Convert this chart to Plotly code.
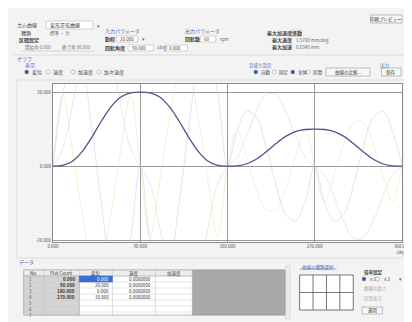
import plotly.graph_objects as go

# ---------------- data ----------------
deg = [0, 10, 20, 30, 40, 50, 60, 70, 80, 90,
       100, 110, 120, 130, 140, 150, 160, 170, 180,
       190, 200, 210, 220, 230, 240, 250, 260, 270,
       280, 290, 300, 310, 320, 330, 340, 350, 360]
displacement = [0, 0.2, 1.3, 3.9, 7.8, 12.2, 16.1, 18.7, 19.8, 20,
                19.8, 18.7, 16.1, 12.2, 7.8, 3.9, 1.3, 0.2, 0,
                0.1, 0.65, 1.95, 3.9, 6.1, 8.05, 9.35, 9.9, 10,
                9.9, 9.35, 8.05, 6.1, 3.9, 1.95, 0.65, 0.1, 0]
velocity = [0, 4.7, 16.5, 30, 38.8, 38.8, 30, 16.5, 4.7, 0,
            -4.7, -16.5, -30, -38.8, -38.8, -30, -16.5, -4.7, 0,
            2.4, 8.3, 15, 19.4, 19.4, 15, 8.3, 2.4, 0,
            -2.4, -8.3, -15, -19.4, -19.4, -15, -8.3, -2.4, 0]
acceleration = [0, 19.3, 29.6, 26, 10.3, -10.3, -26, -29.6, -19.3, 0,
                -19.3, -29.6, -26, -10.3, 10.3, 26, 29.6, 19.3, 0,
                9.6, 14.8, 13, 5.1, -5.1, -13, -14.8, -9.6, 0,
                -9.6, -14.8, -13, -5.1, 5.1, 13, 14.8, 9.6, 0]
jerk = [0, 19.2, 4.3, -12.5, -23.5, -23.5, -12.5, 4.3, 19.2, 0,
        -19.2, -4.3, 12.5, 23.5, 23.5, 12.5, -4.3, -19.2, 0,
        9.6, 2.2, -6.2, -11.8, -11.8, -6.2, 2.2, 9.6, 0,
        -9.6, -2.2, 6.2, 11.8, 11.8, 6.2, -2.2, -9.6, 0]

x_ticks = [0, 90, 180, 270, 360]
x_tick_text = ["0.000", "90.000", "180.000", "270.000", "360.000<br>(deg)"]
y_ticks = [-20, 0, 20]
y_tick_text = ["-20.000", "0.000", "20.000"]

table_header = ["No.", "Plot Count", "変位", "速度", "加速度"]
table_deg = ["0.000", "90.000", "180.000", "270.000"]
table_disp = ["0.000", "20.000", "0.000", "10.000"]
table_vel = ["0.0000000", "0.0000000", "0.0000000", "0.0000000"]

# ---------------- layout helpers (pixel -> paper) ----------------
W, H = 412, 322
L, R_, T_, B_ = 45, 403, 76, 234
FONT = "Noto Sans CJK JP"


def px(x):
    return (x - L) / (R_ - L)


def py(y):
    return (B_ - y) / (B_ - T_)


annotations = []
shapes = []


def text(x, y, s, size=5, color="#444444", anchor="left", bold=False):
    if bold:
        s = "<b>" + s + "</b>"
    annotations.append(dict(x=px(x), y=py(y), xref="paper", yref="paper", text=s,
                            showarrow=False, xanchor=anchor, yanchor="middle",
                            font=dict(size=size, color=color, family=FONT)))


def rect(x0, y0, x1, y1, fill="white", line="#b8b8b8", width=0.6, layer="above"):
    shapes.append(dict(type="rect", xref="paper", yref="paper",
                       x0=px(x0), x1=px(x1), y0=py(y1), y1=py(y0),
                       fillcolor=fill, line=dict(color=line, width=width), layer=layer))


def hline(x0, x1, y, color="#c8c8c8", width=0.8):
    shapes.append(dict(type="line", xref="paper", yref="paper",
                       x0=px(x0), x1=px(x1), y0=py(y), y1=py(y),
                       line=dict(color=color, width=width)))


def vline(x, y0, y1, color="#c8c8c8", width=0.8):
    shapes.append(dict(type="line", xref="paper", yref="paper",
                       x0=px(x), x1=px(x), y0=py(y0), y1=py(y1),
                       line=dict(color=color, width=width)))


def radio(x, y, on=False):
    shapes.append(dict(type="circle", xref="paper", yref="paper",
                       x0=px(x - 2), x1=px(x + 2), y0=py(y + 2), y1=py(y - 2),
                       fillcolor="#3050a0" if on else "white",
                       line=dict(color="#888888", width=0.5)))


BLUE = "#4a68c8"

# ---------------- top form ----------------
text(6, 17, "カム曲線", 5)
rect(38, 13, 86, 21, fill="white")
text(40, 17, "変形正弦曲線", 5, "#333")
text(88, 17, "▾", 5, "#666")
text(10, 25, "種類", 5)
text(40, 25, "標準 ・ 片", 4.5, "#666")
text(8, 32, "区間設定", 5, bold=True)
text(14, 40, "開始角 0.000", 4.5, "#777")
text(52, 40, "終了角 90.000", 4.5, "#777")
hline(12, 88, 43, "#b0b0b0", 0.5)

text(96, 23, "入力パラメータ", 5, BLUE)
text(96, 31, "動程", 5, bold=True)
rect(110, 28, 132, 34, fill="white")
text(112, 31, "20.000", 4.5)
text(134, 31, "▾", 4.5, "#666")
text(96, 40, "回転角度", 5, bold=True)
rect(122, 37, 148, 43, fill="white")
text(124, 40, "90.000", 4.5)
text(150, 40, "(deg)", 4.5, "#666")
rect(160, 37, 183, 43, fill="white")
text(162, 40, "0.000", 4.5)

text(178, 23, "出力パラメータ", 5, BLUE)
text(178, 31, "回転数", 5, bold=True)
rect(196, 28, 212, 34, fill="white")
text(198, 31, "60", 4.5)
text(214, 31, "rpm", 4.5, "#666")

text(262, 25, "最大加速度係数", 5, bold=True)
rect(290, 22, 300, 28, fill="white")
text(268, 32, "最大速度", 5, bold=True)
text(292, 32, "1.5708 mm/deg", 4.5, "#666")
text(268, 39, "最大加速", 5, bold=True)
text(292, 39, "0.0348 mm", 4.5, "#666")

rect(371, 7, 403, 15, fill="#f7f7f7", line="#999999")
text(387, 11, "印刷プレビュー", 4.5, "#333", anchor="center")

hline(5, 407, 47, "#cccccc", 0.6)

# ---------------- graph controls ----------------
text(6, 51, "グラフ", 5, BLUE)
text(14, 57, "表示", 5, BLUE)
radio(18, 64, True)
text(21, 64, "変位", 5)
radio(40, 64)
text(43, 64, "速度", 5)
radio(66, 64)
text(69, 64, "加速度", 5)
radio(92, 64)
text(95, 64, "加々速度", 5)

text(244, 57, "目盛り設定", 4.5, BLUE)
radio(253, 64, True)
text(256, 64, "自動", 4.5)
radio(272, 64)
text(275, 64, "固定", 4.5)
radio(291, 64, True)
text(294, 64, "全体", 4.5)
radio(307, 64)
text(310, 64, "区間", 4.5)
rect(325, 60, 370, 68, fill="#f7f7f7", line="#999999")
text(347.5, 64, "曲線の比較...", 4.5, "#333", anchor="center")
text(378, 57, "出力", 4.5, BLUE)
rect(382, 60, 402, 68, fill="#f7f7f7", line="#999999")
text(392, 64, "保存", 4.5, "#333", anchor="center")

# plot outer frame
rect(8, 72, 407, 250, fill="rgba(0,0,0,0)", line="#d4d4d4", width=0.6, layer="below")

# ---------------- bottom table ----------------
text(8, 254, "データ", 5, BLUE)
cols = [15, 36, 72, 106, 150, 188, 283]
rows = [262, 268, 274, 280, 286, 292, 298, 304]
rect(15, 262, 283, 307, fill="white", line="#999999")
rect(188, 262, 283, 307, fill="#a9a9a9", line="#999999")
rect(15, 262, 188, 268, fill="#ececec", line="#aaaaaa")
rect(15, 268, 72, 307, fill="#d4d4d4", line="#aaaaaa")
for c in cols[1:5]:
    vline(c, 262, 307, "#b8b8b8", 0.5)
for r in rows[1:]:
    hline(15, 188, r, "#c8c8c8", 0.5)
for i, hd in enumerate(table_header):
    text((cols[i] + cols[i + 1]) / 2, 265, hd, 4.5, "#333", anchor="center")
rect(72, 268, 106, 274, fill="#3a6fd0", line="#3a6fd0")
for i in range(7):
    text(18, rows[i + 1] + 3, str(i + 1), 4.5, "#555")
for i in range(4):
    yc = rows[i + 1] + 3
    text(70, yc, table_deg[i], 4.5, "#333", anchor="right", bold=True)
    text(104, yc, table_disp[i], 4.5, "white" if i == 0 else "#333", anchor="right")
    text(148, yc, table_vel[i], 4.5, "#333", anchor="right")
rect(284, 258, 288, 311, fill="#eeeeee", line="#cccccc")

# thumbnail grid
text(298, 259, "曲線の種類選択", 4.5, BLUE)
hline(298, 336, 261, BLUE, 0.5)
rect(298, 267, 353, 302, fill="white", line="#555555", width=0.8)
for gx in [311.75, 325.5, 339.25]:
    vline(gx, 267, 302, "#555555", 0.8)
hline(298, 353, 284.5, "#555555", 0.8)

text(362, 264, "倍率設定", 4.5, bold=True)
radio(364, 271, True)
text(367, 271, "×1", 4.5)
radio(378, 271)
text(381, 271, "×2", 4.5)
text(398, 271, "▾", 4.5, "#666")
text(362, 280, "曲線の長さ", 4.5, "#a0a0a0")
text(362, 290, "区間表示", 4.5, "#b0b0b0")
rect(362, 299, 383, 306, fill="#f7f7f7", line="#999999")
text(372.5, 302.5, "適用", 4.5, "#333", anchor="center")

# ---------------- figure ----------------
fig = go.Figure()
faint = [(velocity, "rgba(236,170,196,0.45)"),
         (acceleration, "rgba(175,178,230,0.45)"),
         (jerk, "rgba(225,222,140,0.5)")]
for series, col in faint:
    fig.add_trace(go.Scatter(x=deg, y=series, mode="lines",
                             line=dict(color=col, width=0.8, shape="spline"),
                             hoverinfo="skip", showlegend=False))
fig.add_trace(go.Scatter(x=deg, y=displacement, mode="lines",
                         line=dict(color="#4e5390", width=1.3, shape="spline"),
                         showlegend=False))

fig.update_layout(
    width=W, height=H,
    margin=dict(l=L, r=W - R_, t=T_, b=H - B_),
    paper_bgcolor="#f3f3f3",
    plot_bgcolor="white",
    font=dict(family=FONT, size=5, color="#444444"),
    annotations=annotations,
    shapes=shapes,
    xaxis=dict(range=[0, 360], tickvals=x_ticks, ticktext=x_tick_text,
               showgrid=True, gridcolor="#9a9a9a", gridwidth=1, zeroline=False,
               showline=True, linecolor="#8a8a8a", linewidth=1, mirror=True,
               ticks="", tickfont=dict(size=4.5, color="#555")),
    yaxis=dict(range=[-20.5, 22.2], tickvals=y_ticks, ticktext=y_tick_text,
               showgrid=True, gridcolor="#9a9a9a", gridwidth=1, zeroline=False,
               showline=True, linecolor="#8a8a8a", linewidth=1, mirror=True,
               ticks="", tickfont=dict(size=4.5, color="#555")),
)

fig.write_html("out.html")
